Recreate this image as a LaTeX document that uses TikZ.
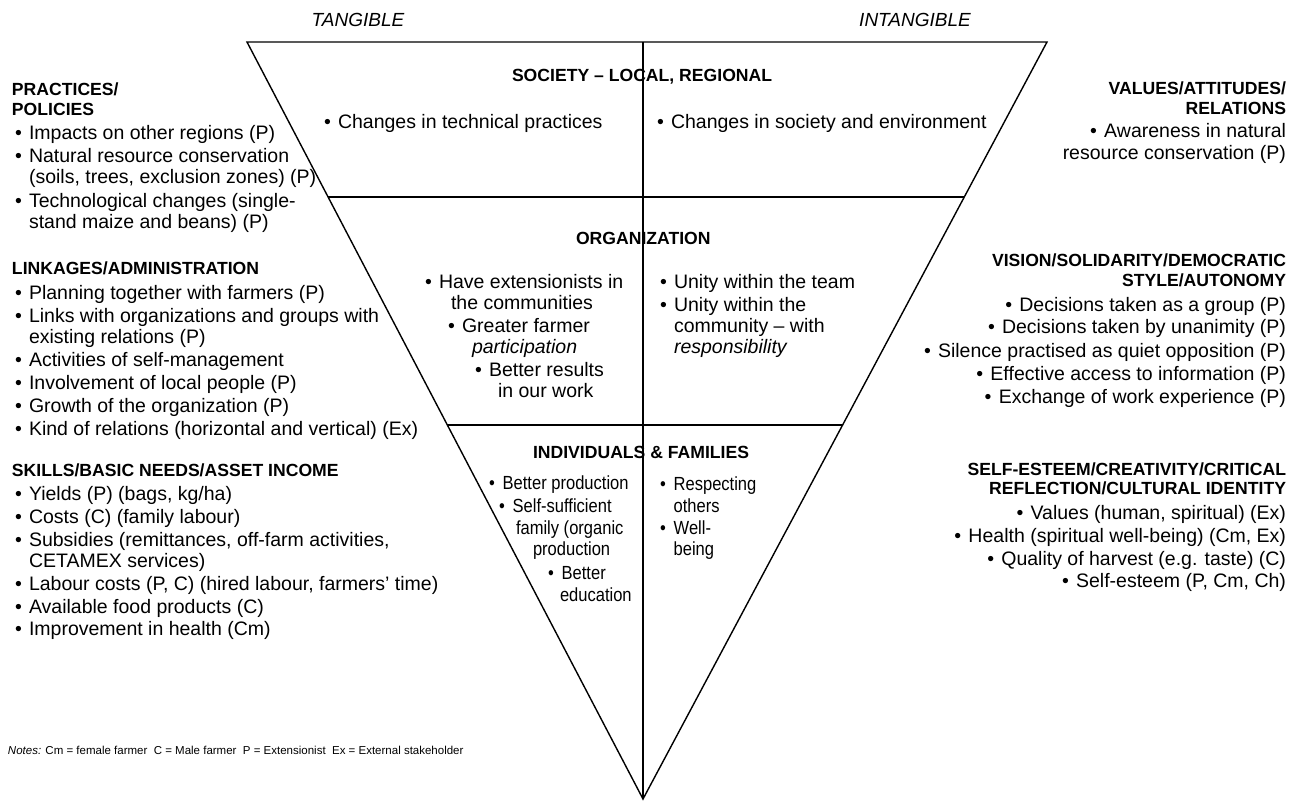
\documentclass[tikz,border=0pt]{standalone}
\usepackage{fontspec}
\setmainfont{Liberation Sans}
\newfontfamily\narrowfam[FakeStretch=0.87]{Liberation Sans}
\usetikzlibrary{calc}
\newcommand{\bul}{\makebox[0.72em][l]{\textbullet}}
\newcommand{\bsp}{\hspace*{0.72em}}
\tikzset{
 txt/.style={inner sep=0pt, outer sep=0pt},
 lhead/.style={txt, anchor=base west, font=\fontsize{17.6}{20}\selectfont\bfseries},
 rhead/.style={txt, anchor=base east, font=\fontsize{17.6}{20}\selectfont\bfseries},
 litem/.style={txt, anchor=base west, font=\fontsize{19.5}{22}\selectfont},
 ritem/.style={txt, anchor=base east, font=\fontsize{19.5}{22}\selectfont},
 nitem/.style={txt, anchor=base west, font=\fontsize{19}{22}\selectfont\narrowfam},
 ttl/.style={txt, anchor=base, font=\fontsize{19}{22}\selectfont\itshape},
 notetxt/.style={txt, anchor=base west, font=\fontsize{11.5}{13}\selectfont},
 tri/.style={line width=1.4pt, line join=miter},
 divline/.style={line width=1.1pt},
}
\begin{document}
\begin{tikzpicture}[x=1pt,y=-1pt]
\useasboundingbox (0,0) rectangle (1290,802);
% triangle
\coordinate (A) at (247,42);
\coordinate (B) at (1047,42);
\coordinate (C) at (643,799);
\coordinate (T) at (643,42);
\draw[tri] (A) -- (B) -- (C) -- cycle;
\draw[divline] (T) -- (C);
\coordinate (d1l) at ($(A)!0.2048!(C)$);
\coordinate (d1r) at ($(B)!0.2048!(C)$);
\coordinate (d2l) at ($(A)!0.506!(C)$);
\coordinate (d2r) at ($(B)!0.506!(C)$);
\draw[divline] (d1l) -- (d1r);
\draw[divline] (d2l) -- (d2r);
% titles
\node[ttl] (tang) at (358,27) {TANGIBLE};
\node[ttl] (intang) at (915,27) {INTANGIBLE};
% left column
\node[lhead] (l1) at (12,96) {PRACTICES/};
\node[lhead] (l2) at (12,116) {POLICIES};
\node[litem] (l3) at (15,140) {\bul Impacts on other regions (P)};
\node[litem] (l4) at (15,163) {\bul Natural resource conservation};
\node[litem] (l5) at (15,184) {\bsp(soils, trees, exclusion zones) (P)};
\node[litem] (l6) at (15,208) {\bul Technological changes (single-};
\node[litem] (l7) at (15,229) {\bsp stand maize and beans) (P)};
\node[lhead] (l8) at (12,275) {LINKAGES/ADMINISTRATION};
\node[litem] (l9) at (15,299) {\bul Planning together with farmers (P)};
\node[litem] (l10) at (15,322) {\bul Links with organizations and groups with};
\node[litem] (l11) at (15,343) {\bsp existing relations (P)};
\node[litem] (l12) at (15,366) {\bul Activities of self-management};
\node[litem] (l13) at (15,389) {\bul Involvement of local people (P)};
\node[litem] (l14) at (15,412) {\bul Growth of the organization (P)};
\node[litem] (l15) at (15,435) {\bul Kind of relations (horizontal and vertical) (Ex)};
\node[lhead] (l16) at (12,476) {SKILLS/BASIC NEEDS/ASSET INCOME};
\node[litem] (l17) at (15,500) {\bul Yields (P) (bags, kg/ha)};
\node[litem] (l18) at (15,523) {\bul Costs (C) (family labour)};
\node[litem] (l19) at (15,546) {\bul Subsidies (remittances, off-farm activities,};
\node[litem] (l20) at (15,567) {\bsp CETAMEX services)};
\node[litem] (l21) at (15,590) {\bul Labour costs (P, C) (hired labour, farmers' time)};
\node[litem] (l22) at (15,613) {\bul Available food products (C)};
\node[litem] (l23) at (15,635) {\bul Improvement in health (Cm)};
% right column
\node[rhead] (r1) at (1286,95) {VALUES/ATTITUDES/};
\node[rhead] (r2) at (1286,115) {RELATIONS};
\node[ritem] (r3) at (1286,138) {\bul Awareness in natural};
\node[ritem] (r4) at (1286,160) {resource conservation (P)};
\node[rhead] (r5) at (1286,267) {VISION/SOLIDARITY/DEMOCRATIC};
\node[rhead] (r6) at (1286,287) {STYLE/AUTONOMY};
\node[ritem] (r7) at (1286,311) {\bul Decisions taken as a group (P)};
\node[ritem] (r8) at (1286,334) {\bul Decisions taken by unanimity (P)};
\node[ritem] (r9) at (1286,357) {\bul Silence practised as quiet opposition (P)};
\node[ritem] (r10) at (1286,380) {\bul Effective access to information (P)};
\node[ritem] (r11) at (1286,403) {\bul Exchange of work experience (P)};
\node[rhead] (r12) at (1286,475) {SELF-ESTEEM/CREATIVITY/CRITICAL};
\node[rhead] (r13) at (1286,494) {REFLECTION/CULTURAL IDENTITY};
\node[ritem] (r14) at (1286,519) {\bul Values (human, spiritual) (Ex)};
\node[ritem] (r15) at (1286,542) {\bul Health (spiritual well-being) (Cm, Ex)};
\node[ritem] (r16) at (1286,565) {\bul Quality of harvest (e.g. taste) (C)};
\node[ritem] (r17) at (1286,587) {\bul Self-esteem (P, Cm, Ch)};
% society
\node[lhead] (s0) at (512,82) {SOCIETY – LOCAL, REGIONAL};
\node[litem] (s1) at (324,129) {\bul Changes in technical practices};
\node[litem] (s2) at (657,129) {\bul Changes in society and environment};
% organization
\node[lhead] (o0) at (576,245) {ORGANIZATION};
\node[litem] (o1) at (425,288) {\bul Have extensionists in};
\node[litem] (o2) at (451,309) {the communities};
\node[litem] (o3) at (448,332) {\bul Greater farmer};
\node[litem] (o4) at (472,353) {\textit{participation}};
\node[litem] (o5) at (475,376) {\bul Better results};
\node[litem] (o6) at (498,397) {in our work};
\node[litem] (o7) at (660,288) {\bul Unity within the team};
\node[litem] (o8) at (660,311) {\bul Unity within the};
\node[litem] (o9) at (660,332) {\bsp community – with};
\node[litem] (o10) at (660,353) {\bsp\textit{responsibility}};
% individuals
\node[lhead] (i0) at (533,458) {INDIVIDUALS \& FAMILIES};
\node[nitem] (i1) at (489,489) {\bul Better production};
\node[nitem] (i2) at (499,512) {\bul Self-sufficient};
\node[nitem] (i3) at (516,534) {family (organic};
\node[nitem] (i4) at (533,555) {production};
\node[nitem] (i5) at (548,579) {\bul Better};
\node[nitem] (i6) at (560,601) {education};
\node[nitem] (i7) at (660,490) {\bul Respecting};
\node[nitem] (i8) at (660,512) {\bsp others};
\node[nitem] (i9) at (660,534) {\bul Well-};
\node[nitem] (i10) at (660,555) {\bsp being};
% notes
\node[notetxt] (notes) at (8,754) {\textit{Notes:} Cm = female farmer\ \ C = Male farmer\ \ P = Extensionist\ \ Ex = External stakeholder};
\end{tikzpicture}
\end{document}
